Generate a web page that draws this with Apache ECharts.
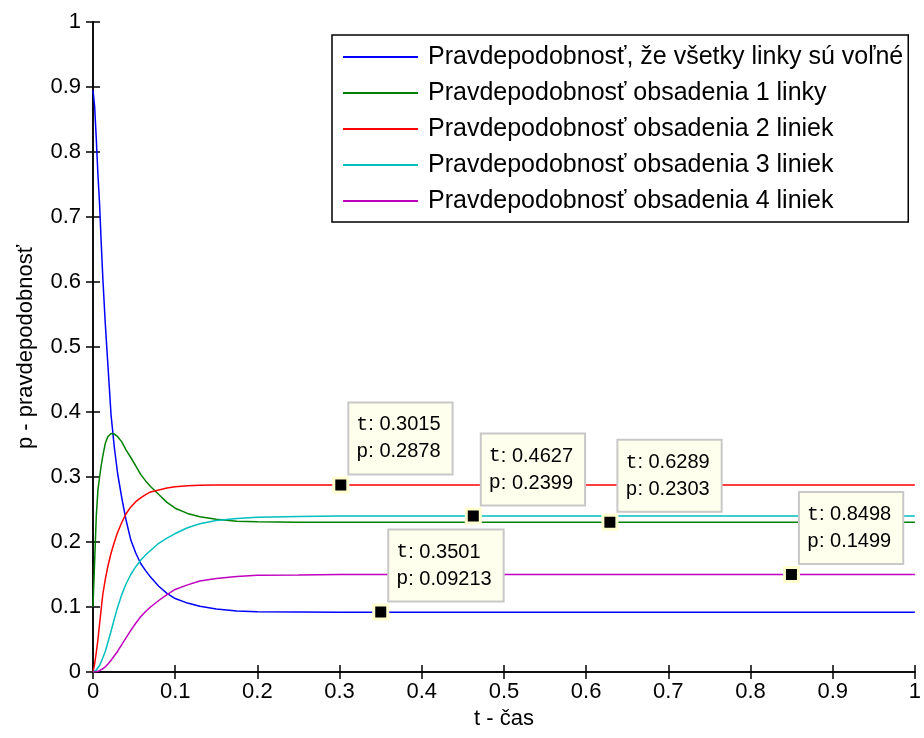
<!DOCTYPE html>
<html>
<head>
<meta charset="utf-8">
<script src="https://cdn.jsdelivr.net/npm/echarts@6/dist/echarts.min.js"></script>
<style>
html,body{margin:0;padding:0;background:#fff;}
#chart{width:924px;height:738px;}
</style>
</head>
<body>
<div id="chart"></div>
<script>
// time samples (t - čas)
const tTime = [0, 0.002, 0.004, 0.006, 0.008, 0.010, 0.012, 0.015, 0.018, 0.022, 0.026, 0.030, 0.035, 0.040, 0.046, 0.052, 0.058, 0.064, 0.070, 0.080, 0.090, 0.100, 0.115, 0.130, 0.150, 0.175, 0.200, 0.250, 0.300, 0.400, 0.500, 0.600, 0.700, 0.800, 0.900, 1.000];
// p0: all lines free
const pFree = [0.895, 0.87, 0.82, 0.765, 0.72, 0.66, 0.605, 0.535, 0.475, 0.395, 0.345, 0.305, 0.268, 0.235, 0.203, 0.183, 0.167, 0.156, 0.146, 0.132, 0.121, 0.113, 0.106, 0.101, 0.097, 0.094, 0.0928, 0.0923, 0.0921, 0.0921, 0.0921, 0.0921, 0.0921, 0.0921, 0.0921, 0.0921];
// p1: 1 line occupied
const pOne = [0.1, 0.17, 0.24, 0.28, 0.30, 0.318, 0.333, 0.352, 0.362, 0.367, 0.366, 0.362, 0.354, 0.342, 0.33, 0.317, 0.304, 0.294, 0.2855, 0.273, 0.261, 0.252, 0.244, 0.239, 0.235, 0.232, 0.231, 0.2303, 0.2303, 0.2303, 0.2303, 0.2303, 0.2303, 0.2303, 0.2303, 0.2303];
// p2: 2 lines occupied
const pTwo = [0, 0.012, 0.03, 0.05, 0.074, 0.097, 0.12, 0.143, 0.162, 0.183, 0.2, 0.215, 0.23, 0.243, 0.254, 0.262, 0.268, 0.273, 0.277, 0.28, 0.283, 0.285, 0.2865, 0.2872, 0.2876, 0.2878, 0.2878, 0.2878, 0.2878, 0.2878, 0.2878, 0.2878, 0.2878, 0.2878, 0.2878, 0.2878];
// p3: 3 lines occupied
const pThree = [0, 0.001, 0.003, 0.006, 0.01, 0.016, 0.022, 0.032, 0.045, 0.063, 0.082, 0.1, 0.119, 0.135, 0.15, 0.162, 0.172, 0.18, 0.187, 0.198, 0.206, 0.213, 0.222, 0.228, 0.233, 0.236, 0.238, 0.2393, 0.2399, 0.2399, 0.2399, 0.2399, 0.2399, 0.2399, 0.2399, 0.2399];
// p4: 4 lines occupied
const pFour = [0, 0, 0.0005, 0.001, 0.002, 0.003, 0.005, 0.008, 0.012, 0.018, 0.025, 0.032, 0.042, 0.052, 0.064, 0.075, 0.085, 0.093, 0.1, 0.11, 0.119, 0.127, 0.134, 0.14, 0.144, 0.147, 0.149, 0.1493, 0.1499, 0.1499, 0.1499, 0.1499, 0.1499, 0.1499, 0.1499, 0.1499];

const seriesNames = [
  'Pravdepodobnosť, že všetky linky sú voľné',
  'Pravdepodobnosť obsadenia 1 linky',
  'Pravdepodobnosť obsadenia 2 liniek',
  'Pravdepodobnosť obsadenia 3 liniek',
  'Pravdepodobnosť obsadenia 4 liniek'
];
const seriesColors = ['#0000ff', '#008000', '#ff0000', '#00bfbf', '#bf00bf'];

// data tips
const tipT = ['0.3015', '0.4627', '0.6289', '0.8498', '0.3501'];
const tipP = ['0.2878', '0.2399', '0.2303', '0.1499', '0.09213'];

const tickLabels = ['0', '0.1', '0.2', '0.3', '0.4', '0.5', '0.6', '0.7', '0.8', '0.9', '1'];

const FONT = "'Liberation Sans', Arial, sans-serif";

const chart = echarts.init(document.getElementById('chart'), null, {renderer: 'canvas'});

const allValues = [pFree, pOne, pTwo, pThree, pFour];
const lineSeries = allValues.map((vals, k) => ({
  name: seriesNames[k],
  type: 'line',
  showSymbol: false,
  animation: false,
  lineStyle: {color: seriesColors[k], width: 1.5},
  itemStyle: {color: seriesColors[k]},
  emphasis: {disabled: true},
  data: tTime.map((t, i) => [t, vals[i]]),
  z: 2
}));

const tipSeries = {
  name: 'tips',
  type: 'scatter',
  symbol: 'rect',
  symbolSize: 14,
  animation: false,
  z: 10,
  emphasis: {disabled: true},
  itemStyle: {color: '#000', borderColor: '#ffffd0', borderWidth: 3, opacity: 1},
  data: tipT.map((t, i) => [parseFloat(t), parseFloat(tipP[i])]),
  label: {
    show: true,
    position: [17, -73],
    formatter: (p) => '{k|t}{v|: ' + tipT[p.dataIndex] + '}\n{k|p}{v|: ' + tipP[p.dataIndex] + '}',
    backgroundColor: '#ffffee',
    borderColor: '#c8c8c8',
    borderWidth: 2,
    opacity: 1,
    padding: [8, 11, 8, 7],
    rich: {
      k: {fontFamily: "'Liberation Mono', 'Courier New', monospace", fontSize: 20, color: '#000', lineHeight: 27},
      v: {fontFamily: FONT, fontSize: 20, color: '#000', lineHeight: 27}
    }
  }
};

const tickFmt = (v) => tickLabels[Math.round(v * 10)];
const axisLineStyle = {color: '#000', width: 1.5};

chart.setOption({
  backgroundColor: '#ffffff',
  animation: false,
  grid: {left: 93, right: 4, top: 22, bottom: 66, containLabel: false},
  legend: {
    data: seriesNames,
    orient: 'vertical',
    left: 332,
    top: 35,
    padding: [8, 5, 7, 11],
    itemGap: 8,
    itemWidth: 75,
    itemHeight: 2,
    icon: 'rect',
    backgroundColor: '#fff',
    borderColor: '#000',
    borderWidth: 1.5,
    borderRadius: 0,
    textStyle: {fontFamily: FONT, fontSize: 25, color: '#000', lineHeight: 28, padding: [0, 0, 0, 5]}
  },
  xAxis: [{
    type: 'value', min: 0, max: 1, interval: 0.1,
    position: 'bottom',
    name: 't - čas', nameLocation: 'middle', nameGap: 34,
    nameTextStyle: {fontFamily: FONT, fontSize: 22, color: '#000'},
    axisLine: {show: true, lineStyle: axisLineStyle},
    axisTick: {show: true, inside: true, length: 7, lineStyle: axisLineStyle},
    axisLabel: {fontFamily: FONT, fontSize: 22, color: '#000', margin: 9, formatter: tickFmt},
    splitLine: {show: false}
  }, {
    type: 'value', min: 0, max: 1, interval: 0.1,
    position: 'top',
    axisLine: {show: true, lineStyle: axisLineStyle},
    axisTick: {show: true, inside: true, length: 7, lineStyle: axisLineStyle},
    axisLabel: {show: false},
    splitLine: {show: false}
  }],
  yAxis: [{
    type: 'value', min: 0, max: 1, interval: 0.1,
    position: 'left',
    name: 'p - pravdepodobnosť', nameLocation: 'middle', nameGap: 56,
    nameTextStyle: {fontFamily: FONT, fontSize: 22, color: '#000'},
    axisLine: {show: true, lineStyle: axisLineStyle},
    axisTick: {show: true, inside: true, length: 7, lineStyle: axisLineStyle},
    axisLabel: {fontFamily: FONT, fontSize: 22, color: '#000', margin: 12, formatter: tickFmt},
    splitLine: {show: false}
  }, {
    type: 'value', min: 0, max: 1, interval: 0.1,
    position: 'right',
    axisLine: {show: true, lineStyle: axisLineStyle},
    axisTick: {show: true, inside: true, length: 7, lineStyle: axisLineStyle},
    axisLabel: {show: false},
    splitLine: {show: false}
  }],
  series: lineSeries.concat([tipSeries])
});
</script>
</body>
</html>
